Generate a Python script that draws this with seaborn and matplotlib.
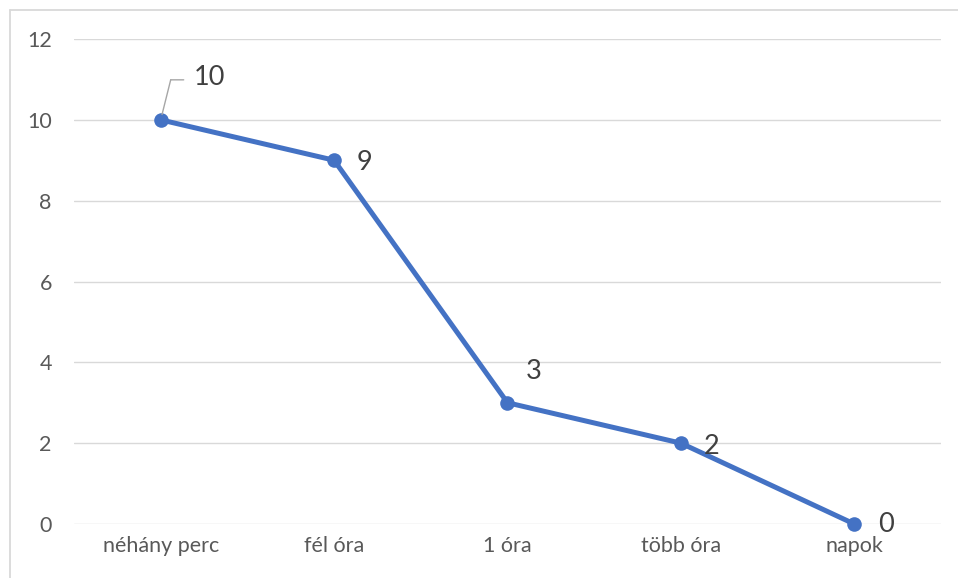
import pandas as pd
import seaborn as sns
import matplotlib.pyplot as plt
import matplotlib.transforms as mtransforms

categories = ['néhány perc', 'fél óra', '1 óra', 'több óra', 'napok']
counts = [10, 9, 3, 2, 0]
# label offsets in pixels from each point
label_dx = [33, 23, 18, 23, 24]
label_dy = [42, -2, 31, -3, 0]

df = pd.DataFrame({'cat': categories, 'val': counts})

sns.set_theme(style='white')
plt.rcParams['font.family'] = ['Lato', 'DejaVu Sans']

fig = plt.figure(figsize=(9.58, 5.78), dpi=100)
ax = fig.add_axes([74 / 958, 1 - 524 / 578, (941 - 74) / 958, (524 - 39) / 578])

# chart-area border (top and left only visible in the crop)
fig.add_artist(plt.Line2D([10 / 958, 1], [1 - 10 / 578, 1 - 10 / 578], color='#d9d9d9', lw=1.3))
fig.add_artist(plt.Line2D([10 / 958, 10 / 958], [0, 1 - 10 / 578], color='#d9d9d9', lw=1.3))

x = list(range(len(categories)))
sns.lineplot(x=x, y=df['val'], ax=ax, color='#4472c4', lw=3.6,
             marker='o', markersize=10.5, markeredgewidth=0, zorder=3)
for ln in ax.lines:
    ln.set_clip_on(False)

ax.set_xlim(-0.5, len(categories) - 0.5)
ax.set_ylim(0, 12)
ax.set_yticks(range(0, 13, 2))
ax.set_xticks(x)
ax.set_xticklabels(categories)
ax.yaxis.grid(True, color='#d9d9d9', lw=1)
ax.set_axisbelow(True)
for s in ax.spines.values():
    s.set_visible(False)
ax.tick_params(axis='both', length=0, labelsize=15.5, labelcolor='#595959')
ax.tick_params(axis='y', pad=16)
ax.tick_params(axis='x', pad=9)
ax.set_xlabel('')
ax.set_ylabel('')

for i, v in enumerate(counts):
    ax.annotate(str(v), xy=(i, v), xytext=(label_dx[i], label_dy[i]),
                textcoords='offset pixels', ha='left', va='center',
                fontsize=19.5, color='#404040')

# leader line for the first label
ax.annotate('', xy=(0, 10), xytext=(10, 40), textcoords='offset pixels',
            arrowprops=dict(arrowstyle='-', color='#a6a6a6', lw=1, shrinkA=0, shrinkB=4))
corner = mtransforms.offset_copy(ax.transData, fig=fig, x=10, y=40, units='dots')
ax.annotate('', xy=(0, 10), xycoords=corner, xytext=(13, 0), textcoords='offset pixels',
            arrowprops=dict(arrowstyle='-', color='#a6a6a6', lw=1, shrinkA=0, shrinkB=0))

fig.savefig('out.png', dpi=100)
